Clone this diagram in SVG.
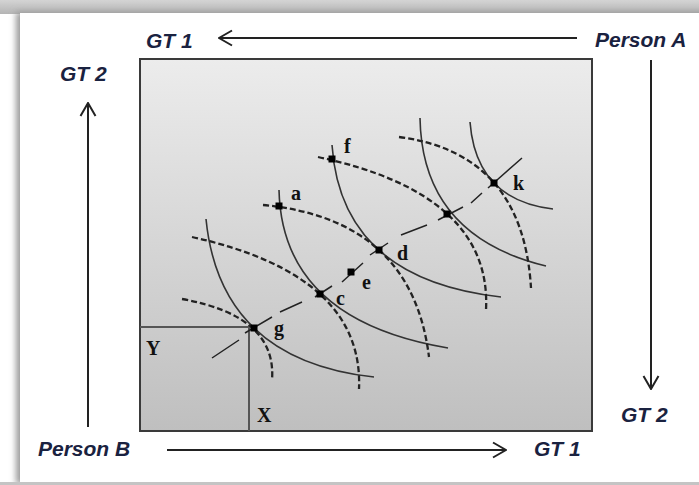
<svg xmlns="http://www.w3.org/2000/svg" width="699" height="485" viewBox="0 0 699 485">
  <defs>
    <linearGradient id="boxFill" x1="0" y1="0" x2="0" y2="1">
      <stop offset="0" stop-color="#ececec"/>
      <stop offset="1" stop-color="#bfbfbf"/>
    </linearGradient>
    <linearGradient id="topBand" x1="0" y1="0" x2="0" y2="1">
      <stop offset="0" stop-color="#d4d4d4"/>
      <stop offset="1" stop-color="#b4b4b4"/>
    </linearGradient>
    <filter id="cardShadow" x="-5%" y="-5%" width="110%" height="110%">
      <feGaussianBlur stdDeviation="3"/>
    </filter>
    <marker id="chev" viewBox="0 0 15 18" refX="14" refY="9" markerWidth="15" markerHeight="18" markerUnits="userSpaceOnUse" orient="auto">
      <path d="M1,1.5 L14,9 L1,16.5" fill="none" stroke="#222" stroke-width="2"/>
    </marker>
  </defs>
  <style>
    .axis { fill: #1a2240; font-family: "Liberation Sans", Arial, sans-serif; font-weight: bold; font-style: italic; font-size: 21px; }
    .lbl { fill: #111; font-family: "Liberation Serif", "Times New Roman", serif; font-weight: bold; font-size: 20px; }
    .arrow { fill: none; stroke: #222; stroke-width: 2; marker-end: url(#chev); }
    .solid { fill: none; stroke: #333; stroke-width: 1.6; }
    .dash { fill: none; stroke: #222; stroke-width: 2.3; stroke-dasharray: 6 3; }
    .cc { fill: none; stroke: #222; stroke-width: 1.5; }
    .pt { fill: #000; }
  </style>

  <!-- frame -->
  <rect x="0" y="0" width="699" height="485" fill="#ffffff"/>
  <rect x="0" y="0" width="699" height="14" fill="url(#topBand)"/>
  <rect x="16" y="12" width="700" height="472" fill="#9a9a9a" filter="url(#cardShadow)"/>
  <rect x="20" y="13" width="679" height="469" fill="#ffffff"/>
  <rect x="0" y="482" width="699" height="3" fill="#c4c4c4"/>

  <!-- Edgeworth box -->
  <g id="box">
    <rect x="140" y="59" width="452" height="372" fill="url(#boxFill)" stroke="#3a3a3a" stroke-width="2"/>
    <path d="M140,327 H249 V431" fill="none" stroke="#555" stroke-width="2"/>
    <text class="lbl" x="146" y="355" font-size="21">Y</text>
    <text class="lbl" x="257" y="422" font-size="21">X</text>
  </g>

  <!-- indifference curves -->
  <g id="curves-B">
    <path class="solid" d="M206,219 Q220,360 374,377"/>
    <path class="solid" d="M279,190 Q282,320 448,348"/>
    <path class="solid" d="M332,145 Q341,279 501,297"/>
    <path class="solid" d="M420,118 Q422,236 546,266"/>
    <path class="solid" d="M470,122 Q476,200 553,209"/>
  </g>
  <g id="curves-A">
    <path class="dash" d="M182,299 Q277,316 272,380"/>
    <path class="dash" d="M192,237 Q364,275 359,389"/>
    <path class="dash" d="M263,205 Q412,219 429,357"/>
    <path class="dash" d="M318,157 Q492,194 486,310"/>
    <path class="dash" d="M399,137 Q523,153 531,288"/>
  </g>

  <!-- connectors: axes arrows and contract curve -->
  <g id="connectors">
    <path class="arrow" d="M577,38 H219"/>
    <path class="arrow" d="M88,427 V103"/>
    <path class="arrow" d="M651,60 V389"/>
    <path class="arrow" d="M167,450 H506"/>
    <path class="cc" d="M212,358 L239,340 M245,333 L272,317 M280,312 L302,302 M315,297 L332,286 M342,282 L363,263 M370,255 L388,243 M401,235 L427,225 M438,220 L463,207 M471,203 L482,193 M488,188 L522,158"/>
  </g>

  <!-- axis labels -->
  <g id="label-gt1-top"><text class="axis" x="146" y="48">GT 1</text></g>
  <g id="label-personA"><text class="axis" x="595" y="47">Person A</text></g>
  <g id="label-gt2-left"><text class="axis" x="60" y="81">GT 2</text></g>
  <g id="label-personB"><text class="axis" x="38" y="456">Person B</text></g>
  <g id="label-gt1-bottom"><text class="axis" x="534" y="456">GT 1</text></g>
  <g id="label-gt2-right"><text class="axis" x="621" y="422">GT 2</text></g>

  <!-- points -->
  <g id="node-g"><rect class="pt" x="250.5" y="324.5" width="7" height="7"/><text class="lbl" x="274" y="335">g</text></g>
  <g id="node-c"><rect class="pt" x="316.5" y="290.5" width="7" height="7"/><text class="lbl" x="336" y="305">c</text></g>
  <g id="node-e"><rect class="pt" x="347.5" y="268.5" width="7" height="7"/><text class="lbl" x="362" y="289">e</text></g>
  <g id="node-d"><rect class="pt" x="375.5" y="246.5" width="7" height="7"/><text class="lbl" x="397" y="260">d</text></g>
  <g id="node-a"><rect class="pt" x="275.5" y="202.5" width="7" height="7"/><text class="lbl" x="291" y="200">a</text></g>
  <g id="node-f"><rect class="pt" x="328.5" y="155.5" width="7" height="7"/><text class="lbl" x="344" y="153">f</text></g>
  <g id="node-p"><rect class="pt" x="443.5" y="210.5" width="7" height="7"/></g>
  <g id="node-k"><rect class="pt" x="490.5" y="179.5" width="7" height="7"/><text class="lbl" x="513" y="190">k</text></g>
</svg>
